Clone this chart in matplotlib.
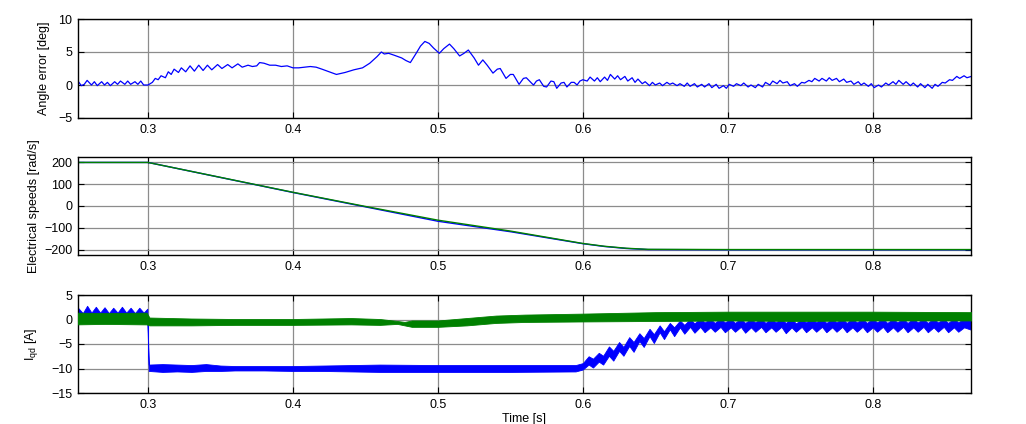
import numpy as np
import matplotlib
matplotlib.use("Agg")
import matplotlib.pyplot as plt

plt.rcParams['font.family'] = ['Liberation Sans', 'DejaVu Sans']
plt.rcParams['font.size'] = 9

# ---------------- data ----------------
# Angle error [deg]
ae_t = [0.250, 0.252, 0.254, 0.256, 0.258, 0.261, 0.263, 0.265, 0.268, 0.270, 0.272, 0.274,
        0.277, 0.279, 0.281, 0.284, 0.286, 0.288, 0.291, 0.293, 0.295, 0.297, 0.300, 0.303,
        0.305, 0.307, 0.309, 0.312, 0.314, 0.316, 0.318, 0.321, 0.323, 0.326, 0.329, 0.332,
        0.335, 0.338, 0.341, 0.344, 0.348, 0.351, 0.355, 0.358, 0.362, 0.365, 0.369, 0.372,
        0.375, 0.377, 0.380, 0.384, 0.388, 0.392, 0.396, 0.400, 0.404, 0.408, 0.412, 0.416,
        0.420, 0.425, 0.430, 0.436, 0.442, 0.448, 0.453, 0.458, 0.461, 0.463, 0.466, 0.470,
        0.475, 0.478, 0.481, 0.485, 0.488, 0.491, 0.494, 0.497, 0.501, 0.504, 0.508, 0.511,
        0.515, 0.518, 0.521, 0.525, 0.528, 0.531, 0.534, 0.538, 0.541, 0.543, 0.547, 0.550,
        0.552, 0.556, 0.559, 0.561, 0.565, 0.566, 0.568, 0.570, 0.573, 0.575, 0.578, 0.580,
        0.582, 0.585, 0.587, 0.589, 0.592, 0.594, 0.596, 0.598, 0.600, 0.603, 0.605, 0.608,
        0.610, 0.612, 0.615, 0.617, 0.619, 0.622, 0.624, 0.626, 0.629, 0.631, 0.634, 0.636,
        0.638, 0.641, 0.643, 0.646, 0.648, 0.650, 0.653, 0.655, 0.658, 0.660, 0.662, 0.665,
        0.667, 0.670, 0.672, 0.674, 0.677, 0.679, 0.682, 0.684, 0.687, 0.689, 0.692, 0.694,
        0.697, 0.699, 0.701, 0.704, 0.706, 0.709, 0.711, 0.714, 0.716, 0.719, 0.721, 0.724,
        0.726, 0.729, 0.731, 0.734, 0.736, 0.738, 0.741, 0.743, 0.746, 0.748, 0.751, 0.753,
        0.756, 0.758, 0.760, 0.763, 0.765, 0.768, 0.770, 0.772, 0.775, 0.777, 0.780, 0.782,
        0.785, 0.787, 0.790, 0.792, 0.794, 0.797, 0.799, 0.801, 0.804, 0.806, 0.809, 0.811,
        0.814, 0.816, 0.818, 0.821, 0.823, 0.826, 0.828, 0.831, 0.833, 0.836, 0.838, 0.841,
        0.843, 0.845, 0.848, 0.850, 0.853, 0.855, 0.858, 0.860, 0.863, 0.865, 0.868]
ae_v = [0.2, 0.5, -0.1, 0.1, 0.7, 0.0, 0.5, -0.1, 0.5, 0.0, 0.4, -0.1,
        0.5, 0.1, 0.6, 0.1, 0.6, 0.1, 0.5, 0.1, 0.6, 0.0, 0.0, 0.4,
        1.0, 0.8, 1.4, 1.1, 2.0, 1.6, 2.4, 1.9, 2.6, 2.0, 2.9, 2.1,
        3.0, 2.2, 3.0, 2.3, 3.1, 2.5, 3.1, 2.6, 3.2, 2.7, 3.0, 2.8,
        2.9, 3.4, 3.3, 3.0, 3.0, 2.8, 2.9, 2.6, 2.6, 2.7, 2.8, 2.7,
        2.4, 2.0, 1.6, 1.9, 2.3, 2.6, 3.3, 4.3, 5.0, 4.7, 4.8, 4.5,
        4.1, 3.7, 3.4, 4.8, 5.9, 6.6, 6.3, 5.6, 4.8, 5.5, 6.2, 5.5,
        4.4, 4.8, 5.3, 4.1, 3.0, 3.8, 3.0, 1.8, 2.4, 2.5, 1.0, 1.6,
        1.6, 0.1, 1.0, 1.1, 0.2, 0.0, 0.6, 0.8, -0.2, -0.3, 0.6, 0.5,
        -0.5, 0.3, 0.4, -0.3, 0.4, 0.4, 0.0, 0.6, 0.8, 0.6, 1.2, 0.6,
        1.1, 0.5, 1.2, 0.7, 1.6, 0.9, 1.4, 0.8, 1.3, 0.6, 1.1, 0.4,
        0.9, 0.2, 0.5, -0.1, 0.4, 0.0, 0.3, -0.1, 0.4, 0.1, 0.3, -0.1,
        0.2, -0.2, 0.3, -0.2, 0.2, -0.3, 0.1, -0.3, 0.2, -0.4, 0.1, -0.5,
        -0.1, -0.5, 0.1, -0.2, 0.2, -0.1, 0.3, -0.3, 0.0, -0.4, 0.1, -0.3,
        0.4, 0.0, 0.6, 0.2, 0.7, 0.3, 0.5, -0.1, 0.2, -0.2, 0.4, 0.3,
        0.7, 0.5, 1.0, 0.6, 1.0, 0.6, 1.1, 0.7, 1.0, 0.5, 0.9, 0.4,
        0.6, 0.1, 0.5, 0.0, 0.3, -0.2, 0.2, -0.4, 0.0, -0.3, 0.3, 0.0,
        0.5, 0.1, 0.7, 0.1, 0.5, -0.1, 0.3, -0.3, 0.2, -0.4, 0.1, -0.5,
        0.1, -0.2, 0.4, 0.3, 0.8, 0.7, 1.3, 1.0, 1.4, 1.1, 1.3]

# Electrical speeds [rad/s]
sp_t = [0.250, 0.300, 0.400, 0.450, 0.500, 0.550, 0.600, 0.615, 0.630, 0.645, 0.700, 0.800, 0.868]
sp_est = [200, 200, 62, -4, -70, -118, -173, -186, -195, -200, -201, -201, -201]
sp_meas = [200, 200, 63, -2, -65, -115, -172, -185, -194, -199, -200, -200, -200]

# Currents [A]: band envelopes (lower / upper) of the noisy traces
iq_t = [0.250, 0.252, 0.255, 0.258, 0.261, 0.264, 0.267, 0.270, 0.273, 0.276, 0.279, 0.282,
        0.285, 0.288, 0.291, 0.294, 0.297, 0.2995, 0.3005, 0.310, 0.320, 0.330, 0.340, 0.350,
        0.360, 0.380, 0.400, 0.420, 0.440, 0.460, 0.500, 0.550, 0.595, 0.600, 0.604, 0.607,
        0.611, 0.614, 0.618, 0.621, 0.625, 0.628, 0.632, 0.635, 0.639, 0.642, 0.646, 0.649,
        0.653, 0.656, 0.660, 0.663, 0.667, 0.670, 0.674, 0.677, 0.681, 0.684, 0.688, 0.691,
        0.695, 0.698, 0.702, 0.705, 0.709, 0.712, 0.716, 0.719, 0.723, 0.726, 0.730, 0.733,
        0.737, 0.740, 0.744, 0.747, 0.751, 0.754, 0.758, 0.761, 0.765, 0.768, 0.772, 0.775,
        0.779, 0.782, 0.786, 0.789, 0.793, 0.796, 0.800, 0.803, 0.807, 0.810, 0.814, 0.817,
        0.821, 0.824, 0.828, 0.831, 0.835, 0.838, 0.842, 0.845, 0.849, 0.852, 0.856, 0.859,
        0.863, 0.868]
iq_hi = [2.0, 2.3, 1.3, 2.8, 1.4, 2.6, 1.4, 2.5, 1.3, 2.4, 1.4, 2.6,
         1.4, 2.4, 1.3, 2.4, 1.4, 2.2, -9.2, -9.1, -9.2, -9.3, -9.1, -9.4,
         -9.5, -9.5, -9.5, -9.4, -9.3, -9.2, -9.3, -9.3, -9.3, -8.9, -7.5, -8.0,
         -6.8, -7.4, -5.5, -6.4, -4.6, -5.6, -3.6, -4.6, -2.8, -3.8, -1.9, -3.0,
         -1.2, -2.4, -0.7, -1.6, -0.2, -1.1, 0.1, -0.8, 0.2, -0.6, 0.1, -0.7,
         0.2, -0.6, 0.1, -0.7, 0.2, -0.7, 0.1, -0.6, 0.2, -0.7, 0.2, -0.6,
         0.1, -0.7, 0.2, -0.8, 0.1, -0.6, 0.2, -0.6, 0.2, -0.7, 0.1, -0.6,
         0.2, -0.7, 0.2, -0.6, 0.1, -0.7, 0.2, -0.6, 0.2, -0.7, 0.1, -0.6,
         0.2, -0.7, 0.2, -0.6, 0.1, -0.7, 0.2, -0.6, 0.1, -0.7, 0.2, -0.6,
         0.2, 0.1]
iq_lo = [0.3, 0.4, 0.2, 0.5, 0.3, 0.4, 0.3, 0.5, 0.3, 0.4, 0.3, 0.5,
         0.3, 0.4, 0.3, 0.5, 0.3, 0.4, -10.5, -10.7, -10.6, -10.7, -10.5, -10.5,
         -10.4, -10.4, -10.5, -10.5, -10.6, -10.7, -10.7, -10.7, -10.6, -10.2, -9.2, -9.8,
         -8.6, -9.2, -7.4, -8.4, -6.4, -7.4, -5.4, -6.6, -4.4, -5.6, -3.4, -4.8,
         -2.6, -4.0, -2.0, -3.4, -1.6, -2.9, -1.5, -2.7, -1.5, -2.6, -1.6, -2.5,
         -1.5, -2.6, -1.6, -2.5, -1.5, -2.7, -1.6, -2.5, -1.5, -2.6, -1.6, -2.5,
         -1.5, -2.8, -1.6, -2.5, -1.5, -2.6, -1.6, -2.5, -1.5, -2.6, -1.6, -2.5,
         -1.5, -2.6, -1.6, -2.5, -1.5, -2.6, -1.6, -2.5, -1.5, -2.6, -1.6, -2.5,
         -1.5, -2.6, -1.6, -2.5, -1.5, -2.6, -1.6, -2.5, -1.5, -2.6, -1.6, -2.5,
         -1.6, -2.1]

id_t = [0.250, 0.270, 0.299, 0.301, 0.330, 0.360, 0.400, 0.440, 0.460, 0.472, 0.477,
        0.482, 0.500, 0.520, 0.540, 0.560, 0.600, 0.650, 0.700, 0.750, 0.800, 0.868]
id_hi = [1.4, 1.3, 1.4, 0.4, 0.2, 0.1, 0.1, 0.3, 0.1, -0.3, -0.5, -0.2, -0.2, 0.3, 0.8, 1.0,
         1.2, 1.5, 1.6, 1.6, 1.6, 1.5]
id_lo = [-1.0, -0.9, -1.0, -1.2, -1.2, -1.1, -1.1, -1.0, -1.1, -0.9, -1.2, -1.5, -1.5, -1.2, -0.7,
         -0.5, -0.4, -0.3, -0.2, -0.3, -0.2, -0.2]

# axis settings
x_ticks = [0.3, 0.4, 0.5, 0.6, 0.7, 0.8]
x_lim = (0.2517, 0.8678)

BLUE = (0, 0, 1)
GREEN = (0, 0.5, 0)
GRID = '#8c8c8c'

fig = plt.figure(figsize=(10.26, 4.24), dpi=100)
W = 1026.0
H = 424.0
L = 78 / W
AW = (971 - 78) / W


def make_ax(top_px, bot_px):
    ax = fig.add_axes([L, 1 - bot_px / H, AW, (bot_px - top_px) / H])
    ax.set_xlim(*x_lim)
    ax.set_xticks(x_ticks)
    ax.set_xticklabels([f"{v:g}" for v in x_ticks])
    ax.grid(True, color=GRID, linewidth=0.9, linestyle='-')
    ax.set_axisbelow(True)
    ax.tick_params(direction='in', length=4, width=0.8, top=True, right=True,
                   labelsize=9, pad=4, colors='black')
    for s in ax.spines.values():
        s.set_linewidth(1.0)
        s.set_color('black')
    return ax


ax1 = make_ax(19, 118)
ax1.plot(ae_t, ae_v, color=BLUE, linewidth=0.9)
ax1.set_ylim(-5, 10)
ax1.set_yticks([-5, 0, 5, 10])
ax1.set_ylabel('Angle error [deg]', fontsize=9)
ax1.yaxis.set_label_coords(-0.031, 0.5)

ax2 = make_ax(157, 255)
ax2.plot(sp_t, sp_est, color=BLUE, linewidth=1.0)
ax2.plot(sp_t, sp_meas, color=GREEN, linewidth=1.0)
ax2.set_ylim(-225, 225)
ax2.set_yticks([-200, -100, 0, 100, 200])
ax2.set_ylabel('Electrical speeds [rad/s]', fontsize=9)
ax2.yaxis.set_label_coords(-0.0425, 0.5)

ax3 = make_ax(295, 393)
ax3.fill_between(iq_t, iq_lo, iq_hi, color=BLUE, linewidth=0.6, zorder=2)
ax3.fill_between(id_t, id_lo, id_hi, color=GREEN, linewidth=0.6, zorder=3)
ax3.set_ylim(-15, 5)
ax3.set_yticks([-15, -10, -5, 0, 5])
ax3.set_ylabel('I$_{\\mathregular{qd}}$ [A]', fontsize=9)
ax3.yaxis.set_label_coords(-0.0425, 0.5)
ax3.set_xlabel('Time [s]', fontsize=9, labelpad=2)

fig.savefig('out.png', dpi=100, facecolor='white')
